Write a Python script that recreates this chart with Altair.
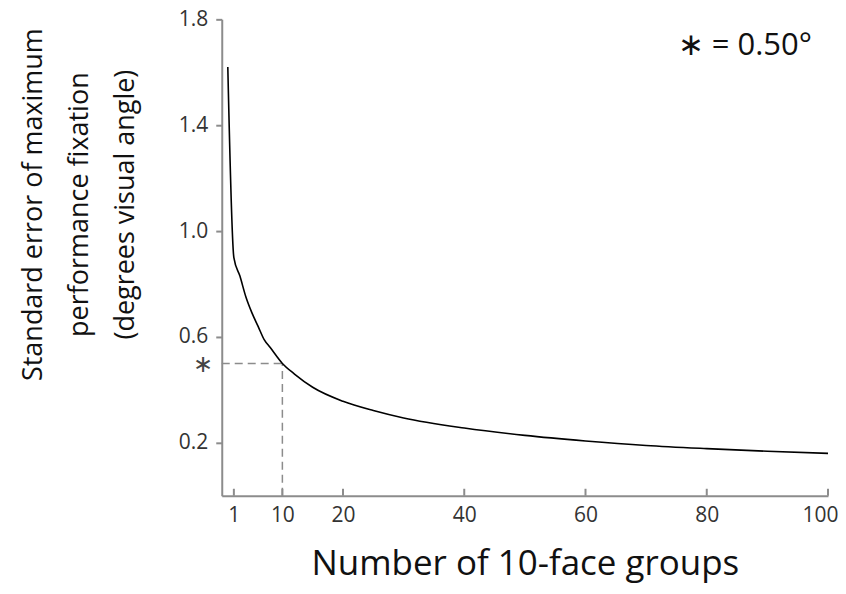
import altair as alt
import pandas as pd

# curve values
n_groups = [1, 2, 3, 4, 5, 6, 7, 8, 10, 12, 15, 20, 25, 30, 40, 50, 60, 70, 80, 90, 100]
std_err = [1.62, 0.90, 0.83, 0.75, 0.69, 0.64, 0.59, 0.56, 0.50, 0.46, 0.41, 0.357,
           0.322, 0.294, 0.256, 0.228, 0.207, 0.19, 0.178, 0.168, 0.16]

x_tick_values = [2, 10, 20, 40, 60, 80, 100]
x_tick_labels = ["1", "10", "20", "40", "60", "80", "100"]
y_tick_values = [0.2, 0.6, 1.0, 1.4, 1.8]

ref_x = 10
ref_y = 0.5
annotation = "∗ = 0.50°"

W, H = 607, 477
FONT = "Open Sans"
GREY = "#8c8c8c"

curve = pd.DataFrame({"n": n_groups, "se": std_err})
label_map = "{" + ",".join(f"'{v}':'{l}'" for v, l in zip(x_tick_values, x_tick_labels)) + "}"

xscale = alt.Scale(domain=[0, 100], nice=False, zero=False)
yscale = alt.Scale(domain=[0, 1.8], nice=False)

line = alt.Chart(curve).mark_line(color="black", strokeWidth=1.6, interpolate="monotone").encode(
    x=alt.X("n:Q", scale=xscale, axis=alt.Axis(
        values=x_tick_values, labelExpr=f"{label_map}[datum.value + '']",
        ticks=False, grid=False, domainColor=GREY, domainWidth=2, labelFlush=False,
        labelOffset={"condition": {"test": "datum.value == 100", "value": -8}, "value": 0},
        labelFont=FONT, labelFontSize=21, labelColor="#333", labelPadding=9,
        title="Number of 10-face groups", titleFont=FONT, titleFontSize=35,
        titleFontWeight="normal", titleColor="#111", titleX=W / 2, titleY=79,
        titleBaseline="alphabetic")),
    y=alt.Y("se:Q", scale=yscale, axis=alt.Axis(
        values=y_tick_values, format=".1f", grid=False, domainColor=GREY, domainWidth=2,
        tickColor=GREY, tickWidth=2, tickSize=6, labelFont=FONT, labelFontSize=21,
        labelColor="#333", labelPadding=8, labelFlush=False,
        title=["Standard error of maximum", "performance fixation", "(degrees visual angle)"],
        titleFont=FONT, titleFontSize=27, titleFontWeight="normal", titleColor="#111",
        titleAngle=270, titleAlign="center", titleBaseline="alphabetic",
        titleX=-180, titleY=185, titleLineHeight=46)),
)

ticks_df = pd.DataFrame({"t": x_tick_values})
xticks = alt.Chart(ticks_df).mark_rule(color=GREY, strokeWidth=2).encode(
    x=alt.X("t:Q", scale=xscale), y=alt.value(H), y2=alt.value(H - 7))

ref_df = pd.DataFrame({"x0": [0, ref_x], "x1": [ref_x, ref_x], "y0": [ref_y, 0], "y1": [ref_y, ref_y]})
dashes = alt.Chart(ref_df).mark_rule(color=GREY, strokeWidth=1.5, strokeDash=[8, 5]).encode(
    x=alt.X("x0:Q", scale=xscale), x2="x1:Q",
    y=alt.Y("y0:Q", scale=yscale), y2="y1:Q")

star = alt.Chart(pd.DataFrame({"v": [ref_y]})).mark_text(
    text="∗", font=FONT, fontSize=24, color="#444", align="center", baseline="middle", dy=2
).encode(x=alt.value(-19), y=alt.Y("v:Q", scale=yscale))

note = alt.Chart(pd.DataFrame({"t": [annotation]})).mark_text(
    font=FONT, fontSize=31, color="#111", align="right", baseline="alphabetic"
).encode(text="t:N", x=alt.value(591), y=alt.value(36))

chart = alt.layer(dashes, line, xticks, star, note).properties(
    width=W, height=H,
    autosize="none",
    padding={"left": 214, "top": 11, "right": 10, "bottom": 89},
).configure_view(stroke=None)

chart.save("out.html", embed_options={"renderer": "svg", "actions": False})
